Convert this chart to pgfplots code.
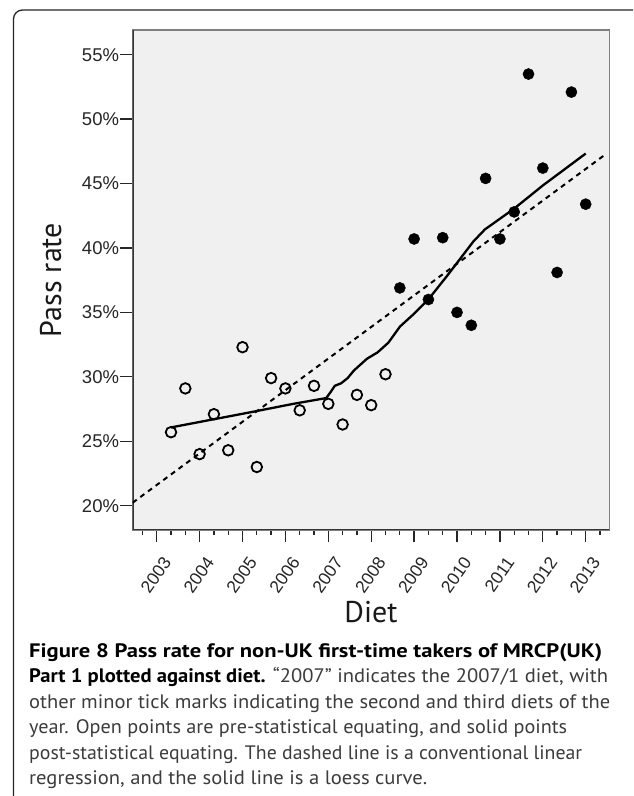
\documentclass[border=0pt]{standalone}
\usepackage{fontspec}
\usepackage{graphicx}
\usepackage{pgfplots}
\pgfplotsset{compat=1.18}
\newfontfamily\tickfont{Liberation Sans}
\newfontfamily\capfont{PT Sans}
\newfontfamily\titlefont{PT Sans}
\definecolor{bgc}{RGB}{240,240,240}
\definecolor{framec}{RGB}{128,128,128}
\definecolor{captxt}{RGB}{60,60,60}
\newsavebox\linebox
\newcommand\fitline[2]{\sbox\linebox{#2}\pgfmathsetmacro\fitf{#1/\wd\linebox}\scalebox{\fitf}[1]{\usebox\linebox}}
\begin{document}
\begin{tikzpicture}
\useasboundingbox (0pt,0pt) rectangle (633pt,796pt);
\clip (0pt,0pt) rectangle (633pt,796pt);
\fill[white] (0pt,0pt) rectangle (633pt,796pt);
\draw[line width=1.3pt, black!85, rounded corners=9pt] (13.5pt,-30pt) -- (13.5pt,786pt) -- (642pt,786pt) -- (642pt,-30pt);
\begin{axis}[
  at={(132.7pt,266pt)}, anchor=south west,
  scale only axis, width=476.6pt, height=500pt,
  xmin=2002.44, xmax=2013.55, ymin=18.11, ymax=56.92,
  axis background/.style={fill=bgc},
  axis line style={framec, line width=1.6pt},
  tick align=outside,
  xtick pos=bottom, ytick pos=left,
  major tick length=12.5pt, minor tick length=5pt,
  every tick/.style={black!85, line width=1.3pt},
  xtick={2003,2004,2005,2006,2007,2008,2009,2010,2011,2012,2013},
  xticklabels={2003,2004,2005,2006,2007,2008,2009,2010,2011,2012,2013},
  minor xtick={2002.6667,2003.3333,2003.6667,2004.3333,2004.6667,2005.3333,2005.6667,2006.3333,2006.6667,2007.3333,2007.6667,2008.3333,2008.6667,2009.3333,2009.6667,2010.3333,2010.6667,2011.3333,2011.6667,2012.3333,2012.6667,2013.3333},
  ytick={20,25,30,35,40,45,50,55},
  yticklabels={20\%,25\%,30\%,35\%,40\%,45\%,50\%,55\%},
  tick label style={text=black!85},
  yticklabel style={font=\tickfont\fontsize{18.5}{21}\selectfont, anchor=east, inner sep=1pt},
  xticklabel shift=11pt,
  xticklabel style={font=\tickfont\fontsize{17.5}{20}\selectfont, xshift=5pt, rotate=55, anchor=north east, inner sep=1pt},
  xlabel={Diet}, ylabel={Pass rate},
  label style={font=\titlefont\fontsize{30}{33}\selectfont, text=black!90},
  xlabel style={at={(axis description cs:0.5,-0.164)}, anchor=center},
  ylabel style={at={(axis description cs:-0.172,0.5)}, anchor=center},
  clip marker paths=true,
]
\draw[black!80, line width=1.6pt] (rel axis cs:0,1) -- (rel axis cs:0,0) -- (rel axis cs:1,0);
% pre-statistical equating (open points)
\addplot[only marks, mark=o, mark size=5.3pt, mark options={line width=1.8pt, black}] table {
x y
2003.3333 25.7
2003.6667 29.1
2004.0000 24.0
2004.3333 27.1
2004.6667 24.3
2005.0000 32.3
2005.3333 23.0
2005.6667 29.9
2006.0000 29.1
2006.3333 27.4
2006.6667 29.3
2007.0000 27.9
2007.3333 26.3
2007.6667 28.6
2008.0000 27.8
2008.3333 30.2
};
% post-statistical equating (solid points)
\addplot[only marks, mark=*, mark size=5.6pt, black] table {
x y
2008.6667 36.9
2009.0000 40.7
2009.3333 36.0
2009.6667 40.8
2010.0000 35.0
2010.3333 34.0
2010.6667 45.4
2011.0000 40.7
2011.3333 42.8
2011.6667 53.5
2012.0000 46.2
2012.3333 38.1
2012.6667 52.1
2013.0000 43.4
2013.6667 49.8
};
% linear regression (dashed)
\addplot[black, line width=2pt, dash pattern=on 5pt off 4.5pt] coordinates {(2002.44,20.23) (2013.43,47.19)};
% loess curve (solid)
\addplot[black, line width=2.3pt] coordinates {
(2003.33,26.07) (2005.25,27.29) (2006.18,27.90) (2006.95,28.35) (2007.05,28.80)
(2007.15,29.30) (2007.30,29.50) (2007.45,29.90) (2007.60,30.50) (2007.90,31.40)
(2008.15,31.90) (2008.40,32.65) (2008.67,33.90) (2009.00,34.90) (2009.33,36.00)
(2009.76,37.80) (2010.03,38.97) (2010.38,40.50) (2010.65,41.44) (2011.33,43.05)
(2012.00,44.85) (2013.00,47.33)
};
\end{axis}
\begin{scope}[every node/.style={anchor=base west, inner sep=0pt, font=\capfont\fontsize{19.5}{25.5}\selectfont, text=captxt}]
\node at (29pt,138.5pt) {\fitline{573}{\textbf{\color{black}Figure 8 Pass rate for non-UK first-time takers of MRCP(UK)}}};
\node at (29pt,113pt) {\fitline{579}{\textbf{\color{black}Part 1 plotted against diet.} “2007” indicates the 2007/1 diet, with}};
\node at (29pt,87.5pt) {\fitline{581}{other minor tick marks indicating the second and third diets of the}};
\node at (29pt,62pt) {\fitline{538}{year. Open points are pre-statistical equating, and solid points}};
\node at (29pt,36.5pt) {\fitline{553}{post-statistical equating. The dashed line is a conventional linear}};
\node at (29pt,11pt) {\fitline{398}{regression, and the solid line is a loess curve.}};
\end{scope}
\end{tikzpicture}
\end{document}
